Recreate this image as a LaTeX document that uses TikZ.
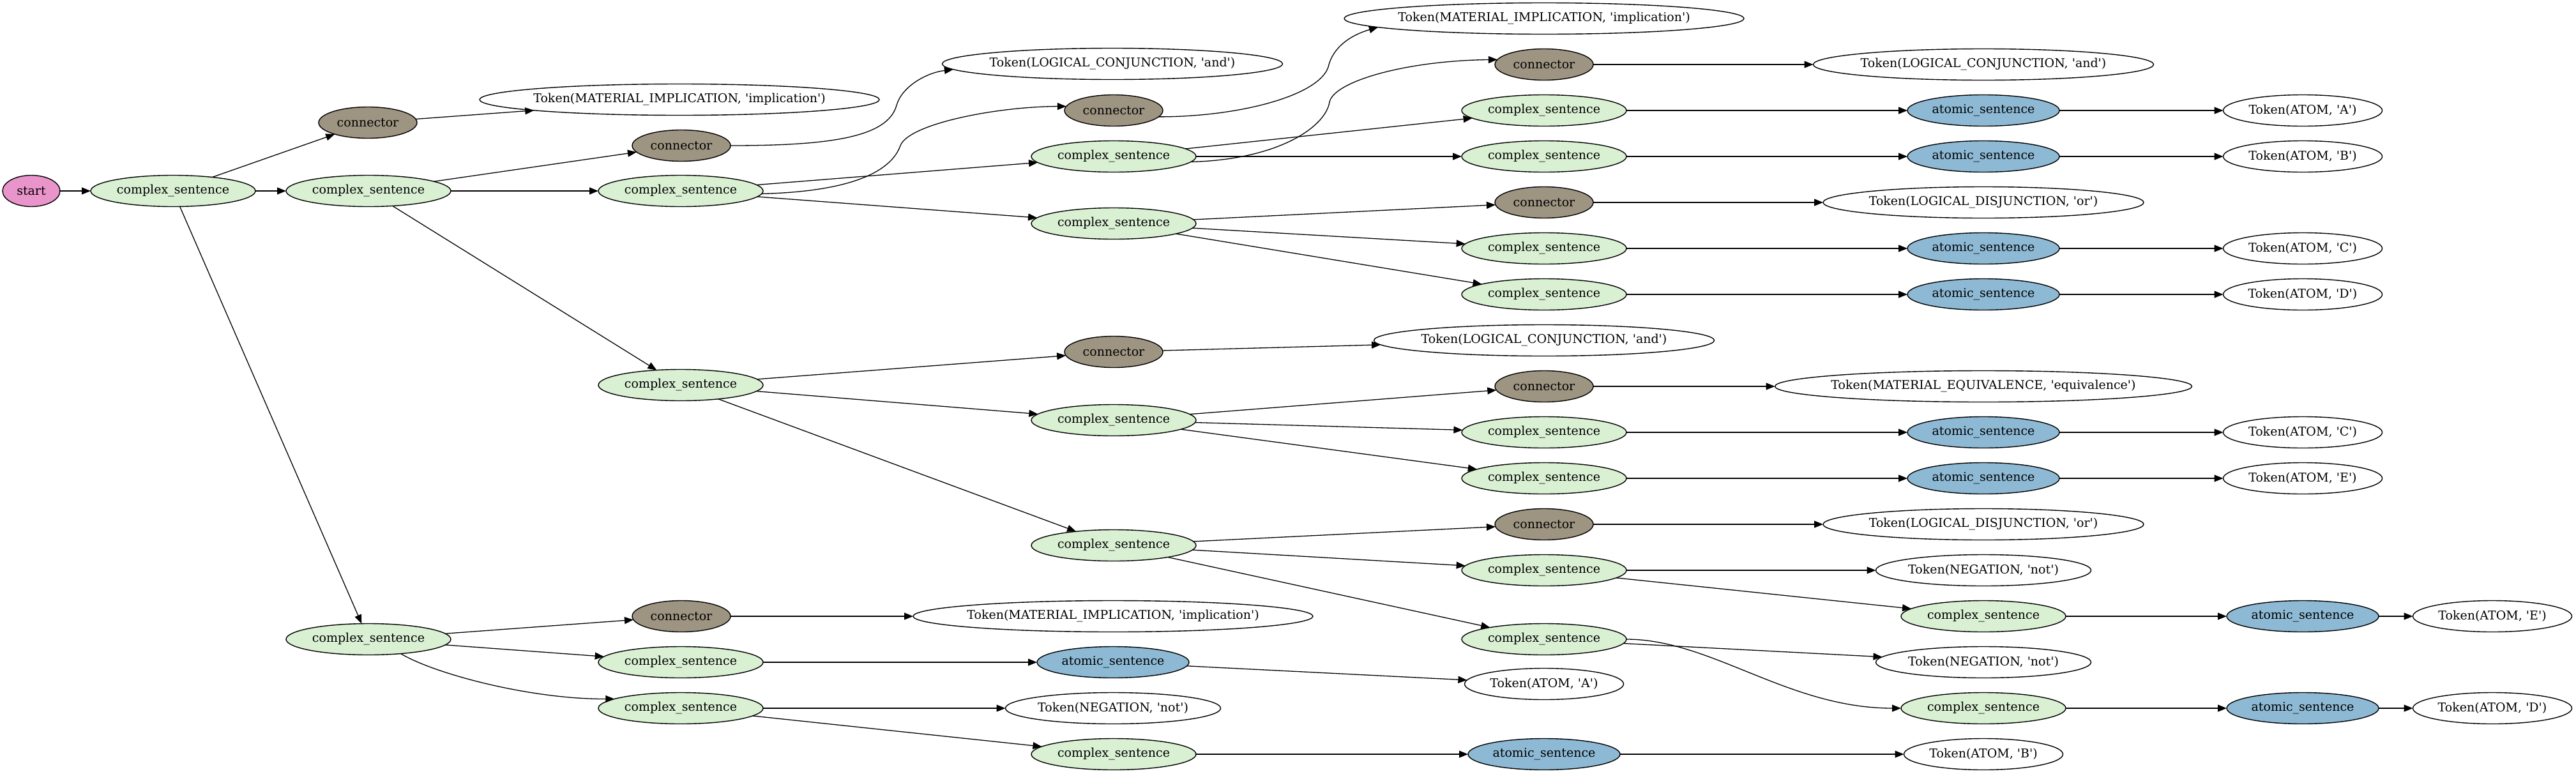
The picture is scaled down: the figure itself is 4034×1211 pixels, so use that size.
\documentclass[tikz,border=0pt]{standalone}
\usepackage{fontspec}
\newfontfamily\gvfamily[Ligatures=TeXOff]{DejaVu Serif}
\usetikzlibrary{shapes.geometric,arrows.meta}
\definecolor{stpink}{RGB}{233,149,203}
\definecolor{congray}{RGB}{158,148,130}
\definecolor{csgreen}{HTML}{D9F0D3}
\definecolor{atblue}{RGB}{141,185,212}
\newcommand{\gvlabel}[1]{\makebox[0pt]{#1}}
\begin{document}
\begin{tikzpicture}[x=1pt,y=-1pt,
  gv/.style={ellipse, draw=black, line width=1.4pt, minimum height=49pt, inner sep=0pt, outer sep=0pt,
    font=\gvfamily\fontsize{19pt}{23pt}\selectfont},
  stn/.style={gv, fill=stpink, minimum width=90pt},
  csn/.style={gv, fill=csgreen, minimum width=258pt},
  con/.style={gv, fill=congray, minimum width=154pt},
  atn/.style={gv, fill=atblue, minimum width=238pt},
  tokn/.style={gv, fill=white, minimum width=#1},
  arr/.style={line width=1.3pt, -{Triangle[length=14pt,width=11pt]}}]
\useasboundingbox (0,0) rectangle (4034,1211);
% column 0-2
\node[stn] (start) at (49,299) {\gvlabel{start}};
\node[csn] (cs1) at (271,299) {\gvlabel{complex\_sentence}};
\node[con] (cA) at (576,192) {\gvlabel{connector}};
\node[csn] (cs2) at (577,299) {\gvlabel{complex\_sentence}};
\node[csn] (cs19) at (577,1001) {\gvlabel{complex\_sentence}};
% column 3
\node[tokn=626pt] (t1) at (1064,156) {\gvlabel{Token(MATERIAL\_IMPLICATION, 'implication')}};
\node[con] (cB) at (1067,228) {\gvlabel{connector}};
\node[csn] (cs3) at (1066,299) {\gvlabel{complex\_sentence}};
\node[csn] (cs10) at (1066,603) {\gvlabel{complex\_sentence}};
\node[con] (cI) at (1067,965) {\gvlabel{connector}};
\node[csn] (cs20) at (1066,1037) {\gvlabel{complex\_sentence}};
\node[csn] (cs21) at (1066,1109) {\gvlabel{complex\_sentence}};
% column 4
\node[tokn=533pt] (t2) at (1742,100) {\gvlabel{Token(LOGICAL\_CONJUNCTION, 'and')}};
\node[con] (cC) at (1744,173) {\gvlabel{connector}};
\node[csn] (cs4) at (1744,245) {\gvlabel{complex\_sentence}};
\node[csn] (cs7) at (1744,350) {\gvlabel{complex\_sentence}};
\node[con] (cF) at (1744,551) {\gvlabel{connector}};
\node[csn] (cs11) at (1744,658) {\gvlabel{complex\_sentence}};
\node[csn] (cs14) at (1744,854) {\gvlabel{complex\_sentence}};
\node[tokn=626pt] (t9) at (1743,965) {\gvlabel{Token(MATERIAL\_IMPLICATION, 'implication')}};
\node[atn] (a20) at (1743,1037) {\gvlabel{atomic\_sentence}};
\node[tokn=337pt] (tN3) at (1743,1109) {\gvlabel{Token(NEGATION, 'not')}};
\node[csn] (cs22) at (1744,1181) {\gvlabel{complex\_sentence}};
% column 5
\node[tokn=626pt] (t3) at (2418,29) {\gvlabel{Token(MATERIAL\_IMPLICATION, 'implication')}};
\node[con] (cD) at (2418,101) {\gvlabel{connector}};
\node[csn] (cs5) at (2418,173) {\gvlabel{complex\_sentence}};
\node[csn] (cs6) at (2418,245) {\gvlabel{complex\_sentence}};
\node[con] (cE) at (2418,317) {\gvlabel{connector}};
\node[csn] (cs8) at (2418,389) {\gvlabel{complex\_sentence}};
\node[csn] (cs9) at (2418,461) {\gvlabel{complex\_sentence}};
\node[tokn=533pt] (t6) at (2418,533) {\gvlabel{Token(LOGICAL\_CONJUNCTION, 'and')}};
\node[con] (cG) at (2418,605) {\gvlabel{connector}};
\node[csn] (cs12) at (2418,677) {\gvlabel{complex\_sentence}};
\node[csn] (cs13) at (2418,749) {\gvlabel{complex\_sentence}};
\node[con] (cH) at (2418,821) {\gvlabel{connector}};
\node[csn] (cs15) at (2418,893) {\gvlabel{complex\_sentence}};
\node[csn] (cs17) at (2418,1001) {\gvlabel{complex\_sentence}};
\node[tokn=249pt] (tA2) at (2418,1071) {\gvlabel{Token(ATOM, 'A')}};
\node[atn] (a22) at (2418,1181) {\gvlabel{atomic\_sentence}};
% column 6
\node[tokn=533pt] (t4) at (3106,101) {\gvlabel{Token(LOGICAL\_CONJUNCTION, 'and')}};
\node[atn] (a5) at (3106,173) {\gvlabel{atomic\_sentence}};
\node[atn] (a6) at (3106,245) {\gvlabel{atomic\_sentence}};
\node[tokn=502pt] (t5) at (3106,317) {\gvlabel{Token(LOGICAL\_DISJUNCTION, 'or')}};
\node[atn] (a8) at (3106,389) {\gvlabel{atomic\_sentence}};
\node[atn] (a9) at (3106,461) {\gvlabel{atomic\_sentence}};
\node[tokn=653pt] (t7) at (3106,605) {\gvlabel{Token(MATERIAL\_EQUIVALENCE, 'equivalence')}};
\node[atn] (a12) at (3106,677) {\gvlabel{atomic\_sentence}};
\node[atn] (a13) at (3106,749) {\gvlabel{atomic\_sentence}};
\node[tokn=502pt] (t8) at (3106,821) {\gvlabel{Token(LOGICAL\_DISJUNCTION, 'or')}};
\node[tokn=337pt] (tN1) at (3106,893) {\gvlabel{Token(NEGATION, 'not')}};
\node[csn] (cs16) at (3106,965) {\gvlabel{complex\_sentence}};
\node[tokn=337pt] (tN2) at (3106,1037) {\gvlabel{Token(NEGATION, 'not')}};
\node[csn] (cs18) at (3106,1109) {\gvlabel{complex\_sentence}};
\node[tokn=249pt] (tB2) at (3106,1181) {\gvlabel{Token(ATOM, 'B')}};
% column 7
\node[tokn=249pt] (tA1) at (3606,173) {\gvlabel{Token(ATOM, 'A')}};
\node[tokn=249pt] (tB1) at (3606,245) {\gvlabel{Token(ATOM, 'B')}};
\node[tokn=249pt] (tC1) at (3606,389) {\gvlabel{Token(ATOM, 'C')}};
\node[tokn=249pt] (tD1) at (3606,461) {\gvlabel{Token(ATOM, 'D')}};
\node[tokn=249pt] (tC2) at (3606,677) {\gvlabel{Token(ATOM, 'C')}};
\node[tokn=249pt] (tE1) at (3606,749) {\gvlabel{Token(ATOM, 'E')}};
\node[atn] (a16) at (3606,965) {\gvlabel{atomic\_sentence}};
\node[atn] (a18) at (3606,1109) {\gvlabel{atomic\_sentence}};
% column 8
\node[tokn=249pt] (tE2) at (3903,965) {\gvlabel{Token(ATOM, 'E')}};
\node[tokn=249pt] (tD2) at (3903,1109) {\gvlabel{Token(ATOM, 'D')}};
% edges
\draw[arr] (start) -- (cs1);
\draw[arr] (cs1) -- (cA);
\draw[arr] (cs1) -- (cs2);
\draw[arr] (cs1) -- (cs19);
\draw[arr] (cA) -- (t1);
\draw[arr] (cs2) -- (cB);
\draw[arr] (cs2) -- (cs3);
\draw[arr] (cs2) -- (cs10);
\draw[arr] (cB.east) .. controls (1300,228) and (1390,215) .. (1404,165)
  .. controls (1412,136) and (1450,114) .. (t2.182);
\draw[arr] (cs3.-2) .. controls (1330,300) and (1395,270) .. (1410,228)
  .. controls (1423,194) and (1560,167) .. (cC.175);
\draw[arr] (cs3) -- (cs4);
\draw[arr] (cs3) -- (cs7);
\draw[arr] (cC.-8) .. controls (1940,183) and (2065,150) .. (2080,105)
  .. controls (2087,74) and (2115,55) .. (t3.183);
\draw[arr] (cs4.-4) .. controls (2000,250) and (2075,200) .. (2082,160)
  .. controls (2088,128) and (2200,95) .. (cD.174);
\draw[arr] (cs4) -- (cs5);
\draw[arr] (cs4) -- (cs6);
\draw[arr] (cD) -- (t4);
\draw[arr] (cs5) -- (a5);
\draw[arr] (a5) -- (tA1);
\draw[arr] (cs6) -- (a6);
\draw[arr] (a6) -- (tB1);
\draw[arr] (cs7) -- (cE);
\draw[arr] (cs7) -- (cs8);
\draw[arr] (cs7) -- (cs9);
\draw[arr] (cE) -- (t5);
\draw[arr] (cs8) -- (a8);
\draw[arr] (a8) -- (tC1);
\draw[arr] (cs9) -- (a9);
\draw[arr] (a9) -- (tD1);
\draw[arr] (cs10) -- (cF);
\draw[arr] (cs10) -- (cs11);
\draw[arr] (cs10) -- (cs14);
\draw[arr] (cF) -- (t6);
\draw[arr] (cs11) -- (cG);
\draw[arr] (cs11) -- (cs12);
\draw[arr] (cs11) -- (cs13);
\draw[arr] (cG) -- (t7);
\draw[arr] (cs12) -- (a12);
\draw[arr] (a12) -- (tC2);
\draw[arr] (cs13) -- (a13);
\draw[arr] (a13) -- (tE1);
\draw[arr] (cs14) -- (cH);
\draw[arr] (cs14) -- (cs15);
\draw[arr] (cs14) -- (cs17);
\draw[arr] (cH) -- (t8);
\draw[arr] (cs15) -- (tN1);
\draw[arr] (cs15) -- (cs16);
\draw[arr] (cs16) -- (a16);
\draw[arr] (a16) -- (tE2);
\draw[arr] (cs17) -- (tN2);
\draw[arr] (cs17.east) .. controls (2680,1001) and (2800,1109) .. (cs18.west);
\draw[arr] (cs18) -- (a18);
\draw[arr] (a18) -- (tD2);
\draw[arr] (cs19) -- (cI);
\draw[arr] (cs19) -- (cs20);
\draw[arr] (cs19.-24) .. controls (680,1055) and (830,1095) .. (cs21.172);
\draw[arr] (cI) -- (t9);
\draw[arr] (cs20) -- (a20);
\draw[arr] (a20) -- (tA2);
\draw[arr] (cs21) -- (tN3);
\draw[arr] (cs21) -- (cs22);
\draw[arr] (cs22) -- (a22);
\draw[arr] (a22) -- (tB2);
\end{tikzpicture}
\end{document}
